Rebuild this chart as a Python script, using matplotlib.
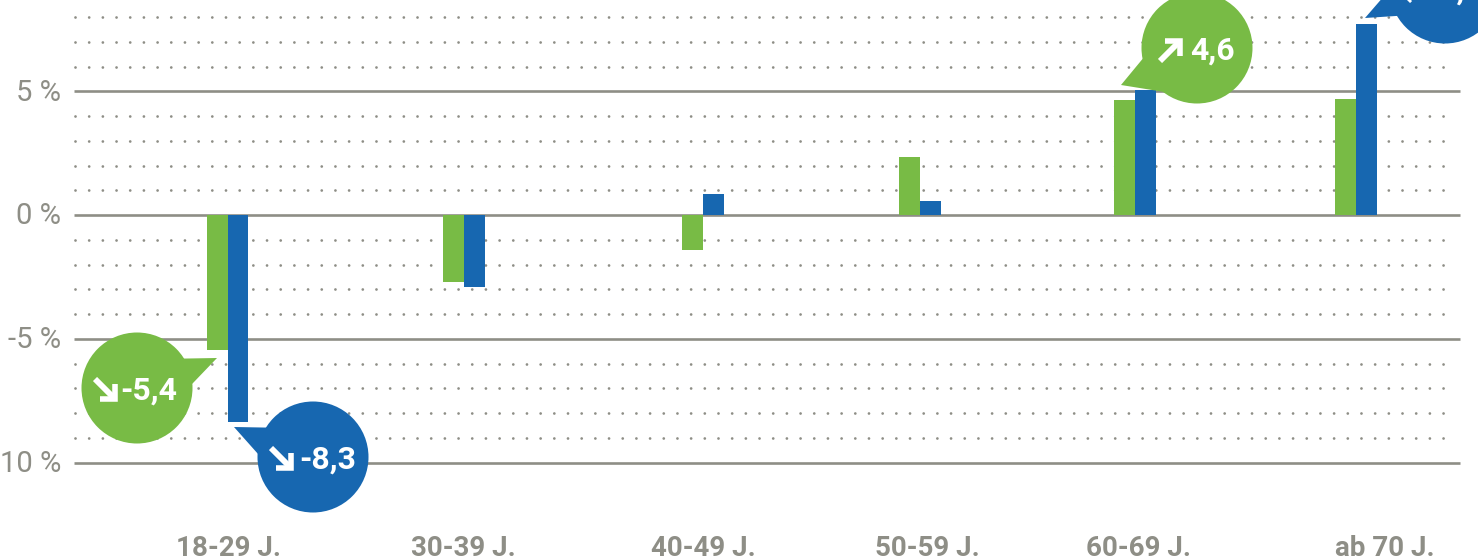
import numpy as np
from matplotlib import pyplot as plt
from matplotlib.patches import Circle, Polygon

categories = ['18-29 J.', '30-39 J.', '40-49 J.', '50-59 J.', '60-69 J.', 'ab 70 J.']
green_values = [-5.45, -2.7, -1.4, 2.35, 4.65, 4.7]
blue_values = [-8.35, -2.9, 0.85, 0.55, 5.05, 7.7]
bubble_labels = ['-5,4', '-8,3', '4,6', '7,7']
major_ticks = [5, 0, -5, -10]
major_labels = ['5 %', '0 %', '-5 %', '10 %']
minor_ticks = [8, 7, 6, 4, 3, 2, 1, -1, -2, -3, -4, -6, -7, -8, -9]

GREEN = '#78bb45'
BLUE = '#1767b0'
GREY = '#8e8e86'
FONT = ['Roboto', 'DejaVu Sans']

plt.rcParams['lines.scale_dashes'] = False

W, H = 1478, 559
fig = plt.figure(figsize=(W / 100, H / 100), dpi=100)
ax = fig.add_axes([0, 0, 1, 1])
px_per_unit = 24.75
zero_y = 215
ax.set_xlim(0, W)
ax.set_ylim((zero_y - H) / px_per_unit, zero_y / px_per_unit)
ax.axis('off')

# dotted rows, then the solid rows
for v in minor_ticks:
    ax.plot([75, 1450], [v, v], color=GREY, lw=2.0, dash_capstyle='round',
            linestyle=(0, (0.01, 9.84)), zorder=1)
for v, lab in zip(major_ticks, major_labels):
    ax.plot([74, 1460], [v, v], color=GREY, lw=1.9, solid_capstyle='butt', zorder=1)
    ax.text(61, v - 1.5 / px_per_unit, lab, color=GREY, ha='right', va='center', fontsize=21, family=FONT)

group_x = [227.5, 464, 703, 920, 1135, 1356]
label_x = [229, 463, 703, 927, 1138, 1385]
bar_w = 20.8
ax.bar(np.array(group_x) - bar_w / 2, green_values, bar_w, color=GREEN, zorder=2)
ax.bar(np.array(group_x) + bar_w / 2, blue_values, bar_w, color=BLUE, zorder=2)

for x, lab in zip(label_x, categories):
    ax.text(x, (zero_y - 548) / px_per_unit, lab, color=GREY, ha='center', va='center',
            fontsize=20, fontweight='bold', family=FONT)

# bubbles live in pixel space so they stay round
ov = fig.add_axes([0, 0, 1, 1])
ov.set_xlim(0, W)
ov.set_ylim(H, 0)
ov.axis('off')
ov.patch.set_alpha(0)


def bubble(cx, cy, tip, a1, a2, color, value, up, text_dx=15):
    ov.add_patch(Circle((cx, cy), 55.5, color=color, lw=0, zorder=3))
    p1 = (cx + 54 * np.cos(np.radians(a1)), cy + 54 * np.sin(np.radians(a1)))
    p2 = (cx + 54 * np.cos(np.radians(a2)), cy + 54 * np.sin(np.radians(a2)))
    ov.add_patch(Polygon([p1, tip, p2], color=color, lw=0, zorder=3))
    d = 10
    if up:
        mx, my = cx - 27, cy + 3
        xs, ys = [mx - d, mx + d - 1], [my + d, my - d + 1]
        hx, hy = [mx + d - 15, mx + d, mx + d], [my - d, my - d, my - d + 15]
    else:
        mx, my = cx - 32, cy + 1
        xs, ys = [mx - d, mx + d - 1], [my - d, my + d - 1]
        hx, hy = [mx + d, mx + d, mx + d - 15], [my + d - 15, my + d, my + d]
    ov.plot(xs, ys, color='white', lw=4.2, solid_capstyle='butt', zorder=4)
    ov.plot(hx, hy, color='white', lw=4.0, solid_joinstyle='miter', solid_capstyle='butt', zorder=4)
    ov.text(cx + text_dx, cy + 3, value, color='white', ha='center', va='center', fontsize=23,
            fontweight='bold', family=FONT, zorder=4)


bubble(137, 388, (217, 358), -33, -3, GREEN, bubble_labels[0], False, text_dx=12)
bubble(313, 457, (234, 427), 213, 182, BLUE, bubble_labels[1], False)
bubble(1197, 48, (1121, 85), 170, 125, GREEN, bubble_labels[2], True)
bubble(1445, -12, (1365, 18), 149, 180, BLUE, bubble_labels[3], True)

fig.savefig('out.png', dpi=100)
